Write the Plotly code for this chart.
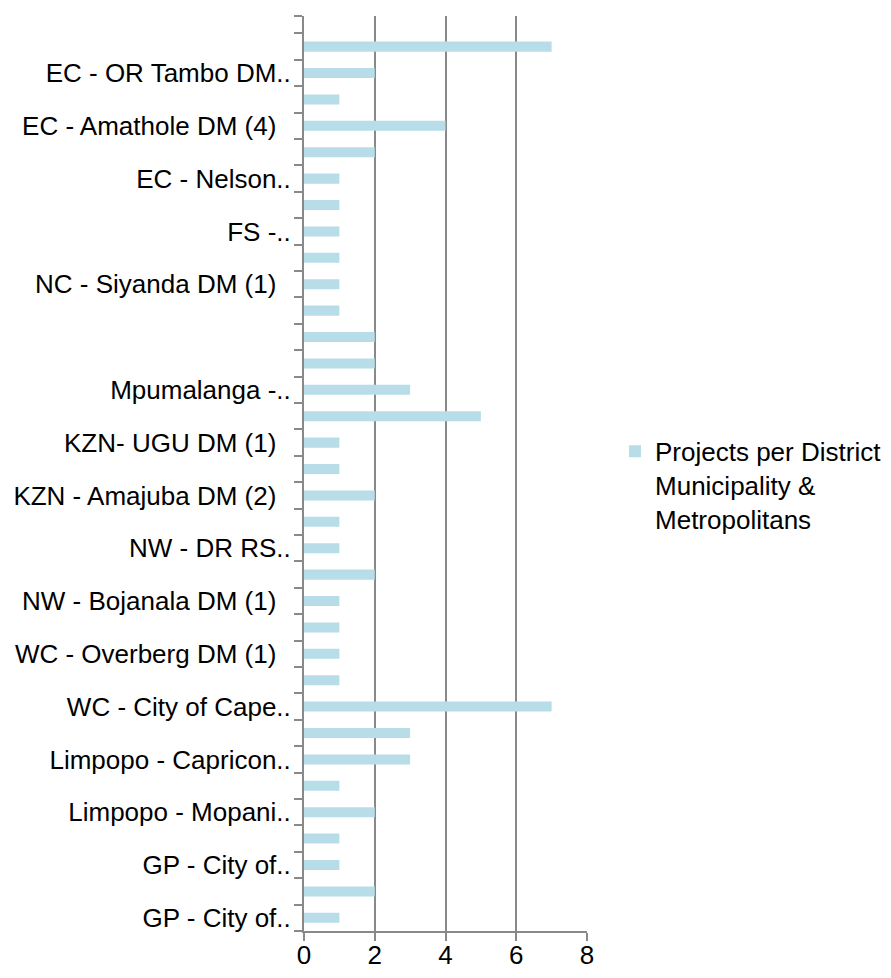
import plotly.graph_objects as go

# District municipalities & metros, listed bottom to top as drawn on the axis.
# Only every other category carries a visible label.
labels = [
    "GP - City of..", "", "GP - City of..", "", "Limpopo - Mopani..", "",
    "Limpopo - Capricon..", "", "WC - City of Cape..", "", "WC - Overberg DM (1)", "",
    "NW - Bojanala DM (1)", "", "NW - DR RS..", "", "KZN - Amajuba DM (2)", "",
    "KZN- UGU DM (1)", "", "Mpumalanga -..", "", "", "",
    "NC - Siyanda DM (1)", "", "FS -..", "", "EC - Nelson..", "",
    "EC - Amathole DM (4)", "", "EC - OR Tambo DM..", "",
]
projects = [
    1, 2, 1, 1, 2, 1, 3, 3, 7, 1, 1, 1, 1, 2, 1, 1, 2, 1,
    1, 5, 3, 2, 2, 1, 1, 1, 1, 1, 1, 2, 4, 1, 2, 7,
]
x_ticks = [0, 2, 4, 6, 8]
series_name = "Projects per District<br>Municipality &<br>Metropolitans"

n = len(projects)
positions = list(range(n))
label_pos = [p for p in positions if p % 2 == 0]


def tick_text(s):
    # truncated names let their trailing dots run up to the axis;
    # full names keep a little room on the right
    if s and not s.endswith(".."):
        return s + "\u00a0\u00a0"
    return s


label_txt = [tick_text(labels[p]) for p in label_pos]
y_top = n + 0.16
boundaries = [p - 0.5 for p in range(n + 1)] + [y_top]

FONT = "Arial, 'Liberation Sans', sans-serif"
AXIS_GREY = "#898989"

fig = go.Figure(
    go.Bar(
        x=projects,
        y=positions,
        orientation="h",
        marker=dict(color="#B7DEE8", line=dict(width=0)),
        name=series_name,
        showlegend=True,
    )
)

fig.update_layout(
    width=891,
    height=978,
    margin=dict(l=304, r=304, t=16, b=47, autoexpand=False),
    paper_bgcolor="white",
    plot_bgcolor="white",
    bargap=0.62,
    font=dict(family=FONT, size=26, color="black"),
    showlegend=True,
    legend=dict(
        x=1.099, xanchor="left",
        y=0.55, yanchor="top",
        valign="top",
        itemwidth=30,
        font=dict(size=26),
        bgcolor="rgba(0,0,0,0)",
        borderwidth=0,
    ),
)

fig.update_xaxes(
    automargin=False,
    range=[0, 8],
    tickvals=x_ticks,
    ticktext=[str(v) for v in x_ticks],
    showgrid=True,
    gridcolor=AXIS_GREY,
    gridwidth=2,
    zeroline=False,
    showline=True,
    linecolor=AXIS_GREY,
    linewidth=2,
    ticks="outside",
    ticklen=8,
    tickwidth=2,
    tickcolor=AXIS_GREY,
    tickfont=dict(size=26),
    ticklabelstandoff=-8,
    fixedrange=True,
)

fig.update_yaxes(
    automargin=False,
    range=[-0.5, y_top],
    tickmode="array",
    tickvals=label_pos,
    ticktext=label_txt,
    ticks="outside",
    ticklen=6,
    tickcolor="rgba(0,0,0,0)",
    tickfont=dict(size=26),
    showgrid=False,
    zeroline=False,
    showline=True,
    linecolor=AXIS_GREY,
    linewidth=2,
    minor=dict(
        tickmode="array",
        tickvals=boundaries,
        ticks="outside",
        ticklen=8,
        tickwidth=2,
        tickcolor=AXIS_GREY,
        showgrid=False,
    ),
    fixedrange=True,
)

fig.write_html("out.html")
